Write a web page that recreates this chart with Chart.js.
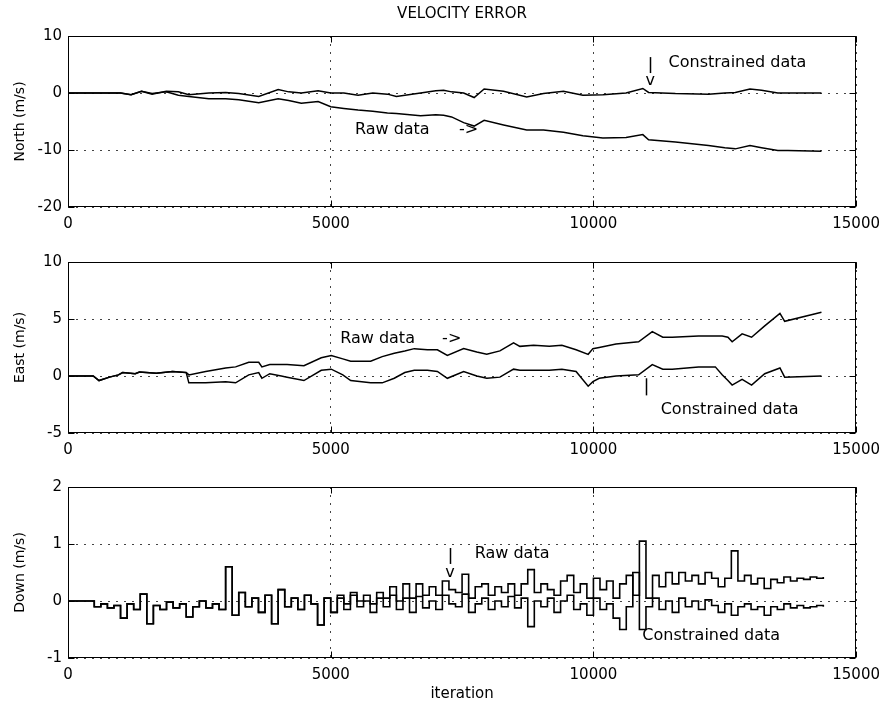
<!DOCTYPE html>
<html>
<head>
<meta charset="utf-8">
<script src="https://cdn.jsdelivr.net/npm/chart.js@4.4.1/dist/chart.umd.min.js"></script>
<style>
  html, body { margin: 0; padding: 0; background: #fff; }
  #wrap { position: relative; width: 888px; height: 707px; overflow: hidden; background: #fff; }
  canvas { position: absolute; left: 0; }
</style>
</head>
<body>
<div id="wrap">
  <canvas id="cNorth" width="888" height="240" style="top:0px"></canvas>
  <canvas id="cEast" width="888" height="225" style="top:240px"></canvas>
  <canvas id="cDown" width="888" height="242" style="top:465px"></canvas>
</div>
<script>
// ---------------- DATA ----------------
const chartTitle = 'VELOCITY ERROR';
const xTickLabels = ['0', '5000', '10000', '15000'];
const seriesNames = ['Raw data', 'Constrained data'];

// North
const northIter = [0,1000,1200,1400,1600,1870,2100,2300,2680,3000,3250,3630,4000,4200,4440,4760,5000,5250,5520,5800,6080,6250,6710,7000,7150,7300,7530,7730,7920,8290,8730,9050,9430,9800,10180,10620,10940,11050,11560,12190,12500,12700,12980,13200,13510,13700,14340];
const northRaw  = [0,0,-0.3,0.3,-0.1,0.2,-0.4,-0.6,-1.0,-1.0,-1.2,-1.7,-1.0,-1.3,-1.8,-1.5,-2.4,-2.7,-3.0,-3.2,-3.5,-3.6,-4.0,-3.8,-3.9,-4.2,-5.2,-5.8,-4.8,-5.6,-6.5,-6.5,-6.9,-7.5,-7.9,-7.8,-7.3,-8.2,-8.6,-9.2,-9.6,-9.8,-9.2,-9.6,-10.1,-10.1,-10.2];
const northCon  = [0,0,-0.3,0.3,-0.2,0.3,0.2,-0.3,0,0.1,-0.1,-0.6,0.6,0.2,0,0.4,0,0,-0.4,0,-0.2,-0.6,0,0.4,0.5,0.2,0,-0.8,0.7,0.3,-0.7,-0.1,0.3,-0.4,-0.3,0,0.8,0.1,-0.1,-0.2,0,0.1,0.7,0.5,0,0,0];

// East
const eastIter = [0,480,590,790,960,1040,1280,1360,1680,1990,2250,2300,2620,3000,3190,3440,3630,3690,3840,4060,4170,4490,4820,5010,5230,5380,5760,5980,6210,6410,6590,6840,7030,7220,7530,7780,7970,8220,8480,8600,8860,9160,9400,9670,9900,9990,10110,10430,10860,11120,11320,11500,12000,12320,12450,12560,12640,12830,13010,13260,13550,13640,14340];
const eastRaw  = [0,0,-0.4,-0.1,0.1,0.3,0.2,0.35,0.25,0.4,0.3,0.1,0.4,0.7,0.8,1.2,1.2,0.8,1.0,1.0,1.0,0.9,1.6,1.8,1.5,1.3,1.3,1.7,2.0,2.2,2.4,2.3,2.3,1.8,2.4,2.1,1.9,2.2,2.9,2.6,2.7,2.6,2.7,2.3,1.9,2.4,2.5,2.8,3.0,3.9,3.4,3.4,3.5,3.5,3.5,3.4,3.0,3.7,3.4,4.4,5.5,4.8,5.6];
const eastCon  = [0,0,-0.4,-0.1,0.1,0.3,0.2,0.35,0.25,0.4,0.3,-0.6,-0.6,-0.5,-0.6,0.1,0.3,-0.2,0.2,0.0,-0.1,-0.4,0.5,0.6,0.1,-0.4,-0.6,-0.6,-0.2,0.3,0.5,0.5,0.4,-0.2,0.4,0.0,-0.2,-0.1,0.6,0.5,0.5,0.5,0.6,0.4,-0.9,-0.5,-0.2,0.0,0.1,1.0,0.6,0.6,0.8,0.8,0.1,-0.4,-0.8,-0.3,-0.8,0.2,0.7,-0.1,0.0];

// Down
const downIter = [0,500,625,750,875,1000,1125,1250,1375,1500,1625,1750,1875,2000,2125,2250,2375,2500,2625,2750,2875,3000,3125,3250,3375,3500,3625,3750,3875,4000,4125,4250,4375,4500,4625,4750,4875,5000,5125,5250,5375,5500,5625,5750,5875,6000,6125,6250,6375,6500,6625,6750,6875,7000,7125,7250,7375,7500,7625,7750,7875,8000,8125,8250,8375,8500,8625,8750,8875,9000,9125,9250,9375,9500,9625,9750,9875,10000,10125,10250,10375,10500,10625,10750,10875,11000,11125,11250,11375,11500,11625,11750,11875,12000,12125,12250,12375,12500,12625,12750,12875,13000,13125,13250,13375,13500,13625,13750,13875,14000,14125,14250,14375];
const downRaw = [0,-0.1,-0.05,-0.12,-0.08,-0.3,-0.05,-0.15,0.12,-0.4,-0.08,-0.15,-0.02,-0.12,-0.05,-0.28,-0.1,0.0,-0.12,-0.05,-0.15,0.6,-0.25,0.15,-0.1,0.05,-0.2,0.1,-0.4,0.2,-0.1,0.05,-0.15,0.1,-0.05,-0.42,0.05,-0.2,
  0.1,-0.05,0.15,0.0,0.1,-0.05,0.15,0.05,0.25,0.0,0.3,0.05,0.3,0.1,0.25,0.1,0.35,0.2,0.15,0.47,0.05,0.25,0.3,0.1,0.25,0.15,0.3,0.1,0.3,0.55,0.15,0.3,0.2,0.1,0.35,0.45,0.15,0.3,0.05,0.4,0.2,0.35,0.05,0.3,0.45,0.1,1.05,0.05,0.45,0.25,0.5,0.3,0.5,0.35,0.45,0.3,0.5,0.4,0.25,0.4,0.88,0.35,0.45,0.3,0.4,0.22,0.38,0.32,0.42,0.35,0.4,0.38,0.42,0.4,0.42];
const downCon = [0,-0.1,-0.05,-0.12,-0.08,-0.3,-0.05,-0.15,0.12,-0.4,-0.08,-0.15,-0.02,-0.12,-0.05,-0.28,-0.1,0.0,-0.12,-0.05,-0.15,0.6,-0.25,0.15,-0.1,0.05,-0.2,0.1,-0.4,0.2,-0.1,0.05,-0.15,0.1,-0.05,-0.42,0.05,-0.2,
  0.05,-0.15,0.1,-0.1,0.0,-0.2,0.05,-0.1,0.1,-0.15,0.05,-0.2,0.08,-0.12,0.0,-0.15,0.1,-0.05,-0.1,0.12,-0.2,-0.05,0.05,-0.15,0.0,-0.1,0.08,-0.12,0.05,-0.45,0.0,-0.1,0.05,-0.2,0.0,0.1,-0.15,-0.05,-0.25,0.05,-0.15,-0.05,-0.3,-0.5,-0.1,0.5,-0.5,-0.1,0.05,-0.15,0.0,-0.2,0.05,-0.1,0.0,-0.15,0.02,-0.08,-0.2,-0.05,-0.25,-0.1,-0.05,-0.15,-0.1,-0.25,-0.1,-0.15,-0.05,-0.12,-0.08,-0.12,-0.1,-0.08,-0.1];

// ---------------- DRAWING ----------------
const FONT = 'DejaVu Sans';

const framePlugin = {
  id: 'frame',
  afterDatasetsDraw(chart, args, opts) {
    const {ctx, chartArea: a, scales: {x, y}} = chart;
    ctx.save();
    ctx.strokeStyle = '#000';
    ctx.lineWidth = 1;
    const L = Math.round(a.left) + 0.5, R = Math.round(a.right) - 0.5;
    const T = Math.round(a.top) + 0.5, B = Math.round(a.bottom) - 0.5;
    ctx.strokeRect(L, T, R - L, B - T);
    ctx.beginPath();
    x.ticks.forEach(t => {
      const p = Math.round(x.getPixelForValue(t.value)) + 0.5;
      ctx.moveTo(p, B); ctx.lineTo(p, B - 6);
      ctx.moveTo(p, T); ctx.lineTo(p, T + 6);
    });
    y.ticks.forEach(t => {
      const p = Math.round(y.getPixelForValue(t.value)) + 0.5;
      ctx.moveTo(L, p); ctx.lineTo(L + 6, p);
      ctx.moveTo(R, p); ctx.lineTo(R - 6, p);
    });
    ctx.stroke();
    ctx.fillStyle = '#000';
    ctx.font = '16px "' + FONT + '"';
    ctx.textBaseline = 'middle';
    (opts.items || []).forEach(it => {
      const px = x.getPixelForValue(it.x);
      if (it.y2 !== undefined) {
        ctx.beginPath();
        ctx.lineWidth = 1.5;
        ctx.moveTo(Math.round(px) + 0.5, y.getPixelForValue(it.y));
        ctx.lineTo(Math.round(px) + 0.5, y.getPixelForValue(it.y2));
        ctx.stroke();
      } else {
        ctx.textAlign = it.align || 'left';
        ctx.fillText(it.text, px, y.getPixelForValue(it.y));
      }
    });
    ctx.restore();
  }
};

function makeChart(id, cfg) {
  const datasets = cfg.series.map((vals, k) => ({
    label: seriesNames[k],
    data: cfg.iter.map((xv, i) => ({x: xv, y: vals[i]})),
    borderColor: '#000',
    borderWidth: cfg.lw || 1.5,
    pointRadius: 0,
    fill: false,
    tension: 0,
    stepped: cfg.stepped || false
  }));
  const tickFont = {family: FONT, size: 15};
  return new Chart(document.getElementById(id), {
    type: 'line',
    data: {datasets},
    options: {
      responsive: false,
      animation: false,
      devicePixelRatio: 1,
      layout: {padding: {left: 0, right: 26, top: cfg.padTop, bottom: 0}},
      plugins: {
        legend: {display: false},
        tooltip: {enabled: false},
        title: cfg.title ? {
          display: true, text: cfg.title, fullSize: false, color: '#000',
          font: {family: FONT, size: 15, weight: 'normal'},
          padding: {top: 5, bottom: 13}
        } : {display: false},
        frame: {items: cfg.notes}
      },
      scales: {
        x: {
          type: 'linear', min: 0, max: 15000,
          ticks: {stepSize: 5000, padding: 8, color: '#000', font: tickFont, maxRotation: 0, autoSkip: false,
                  callback: (v) => xTickLabels[Math.round(v / 5000)] },
          grid: {color: '#444', lineWidth: 1, drawTicks: false},
          border: {display: false, dash: [2, 6]},
          title: cfg.xTitle ? {display: true, text: cfg.xTitle, color: '#000', font: {family: FONT, size: 15}, padding: {top: 2, bottom: 4}} : {display: false},
          afterFit: (s) => { s.height = cfg.xH; }
        },
        y: {
          min: cfg.yMin, max: cfg.yMax,
          ticks: {stepSize: cfg.yStep, padding: 6, color: '#000', font: tickFont, callback: (v) => String(v)},
          grid: {color: '#444', lineWidth: 1, drawTicks: false},
          border: {display: false, dash: [2, 6]},
          title: {display: true, text: cfg.yTitle, color: '#000', font: {family: FONT, size: 14}, padding: {top: 12, bottom: 0}},
          afterFit: (s) => { s.width = 68; }
        }
      }
    },
    plugins: [framePlugin]
  });
}

makeChart('cNorth', {
  iter: northIter, series: [northRaw, northCon],
  yMin: -20, yMax: 10, yStep: 10, yTitle: 'North (m/s)',
  title: chartTitle, padTop: 0, xH: 33,
  notes: [
    {x: 11080, y: 6.3, y2: 3.5},
    {x: 11080, y: 2.2, text: 'v', align: 'center'},
    {x: 11430, y: 5.3, text: 'Constrained data'},
    {x: 5460, y: -6.5, text: 'Raw data'},
    {x: 7440, y: -6.5, text: '->'}
  ]
});

makeChart('cEast', {
  iter: eastIter, series: [eastRaw, eastCon],
  yMin: -5, yMax: 10, yStep: 5, yTitle: 'East (m/s)',
  padTop: 22, xH: 32,
  notes: [
    {x: 5180, y: 3.3, text: 'Raw data'},
    {x: 7120, y: 3.3, text: '->'},
    {x: 11010, y: -0.2, y2: -1.7},
    {x: 11280, y: -3.0, text: 'Constrained data'}
  ]
});

makeChart('cDown', {
  iter: downIter, series: [downRaw, downCon], stepped: true, lw: 1.6,
  yMin: -1, yMax: 2, yStep: 1, yTitle: 'Down (m/s)',
  padTop: 22, xH: 49, xTitle: 'iteration',
  notes: [
    {x: 7270, y: 0.93, y2: 0.65},
    {x: 7270, y: 0.5, text: 'v', align: 'center'},
    {x: 7740, y: 0.82, text: 'Raw data'},
    {x: 10930, y: -0.61, text: 'Constrained data'}
  ]
});
</script>
</body>
</html>
